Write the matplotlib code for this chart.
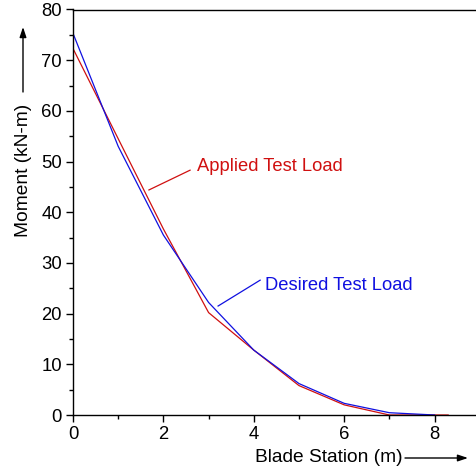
import matplotlib.pyplot as plt
from matplotlib.ticker import MultipleLocator

plt.rcParams['font.family'] = ['Liberation Sans', 'DejaVu Sans']

# data
x_desired = [0, 1, 2, 3, 4, 5, 6, 7, 8]
desired = [75.3, 53.0, 35.5, 22.2, 12.8, 6.2, 2.3, 0.45, 0.0]
x_applied = [0, 1, 2, 3, 4, 5, 6, 7, 8, 8.3]
applied = [72.3, 54.5, 36.7, 20.2, 12.8, 5.8, 2.0, 0.0, 0.0, 0.0]

fig = plt.figure(figsize=(4.76, 4.70), dpi=100, facecolor='w')
ax = fig.add_axes([73/476, 1-415/470, 1-73/476, (415-9.5)/470])

ax.plot(x_applied, applied, color='#d01010', lw=0.9)
ax.plot(x_desired, desired, color='#1010e0', lw=0.9)

ax.set_xlim(0, (476-73)/45.2)
ax.set_ylim(0, 80)
ax.xaxis.set_major_locator(MultipleLocator(2))
ax.xaxis.set_minor_locator(MultipleLocator(1))
ax.yaxis.set_major_locator(MultipleLocator(10))
ax.yaxis.set_minor_locator(MultipleLocator(5))
ax.tick_params(which='both', direction='out', labelsize=13.3, width=1, pad=3)
ax.tick_params(which='major', length=5)
ax.tick_params(which='minor', length=3)
ax.spines['right'].set_visible(False)
for s in ['left', 'bottom', 'top']:
    ax.spines[s].set_linewidth(1)

# callouts
ax.plot([1.68, 2.59], [44.4, 48.3], color='#d01010', lw=0.9)
ax.text(2.74, 49.1, 'Applied Test Load', color='#d01010', fontsize=13.2, va='center')
ax.plot([3.21, 4.14], [21.5, 26.6], color='#1010e0', lw=0.9)
ax.text(4.25, 25.6, 'Desired Test Load', color='#1010e0', fontsize=13.2, va='center')

# axis labels with arrows
fig.text(329/476, 1-458/470, 'Blade Station (m)', fontsize=13.8, ha='center', va='center')
fig.text(24/476, 1-170/470, 'Moment (kN-m)', fontsize=13.8, ha='center', va='center', rotation=90)
ax.annotate('', xy=(468/476, 1-458/470), xytext=(405/476, 1-458/470),
            xycoords='figure fraction', textcoords='figure fraction',
            arrowprops=dict(arrowstyle='-|>,head_length=0.6,head_width=0.2', color='k', lw=1,
                            shrinkA=0, shrinkB=0))
ax.annotate('', xy=(23/476, 1-27/470), xytext=(23/476, 1-92/470),
            xycoords='figure fraction', textcoords='figure fraction',
            arrowprops=dict(arrowstyle='-|>,head_length=0.6,head_width=0.2', color='k', lw=1,
                            shrinkA=0, shrinkB=0))

fig.savefig('out.png', dpi=100)
